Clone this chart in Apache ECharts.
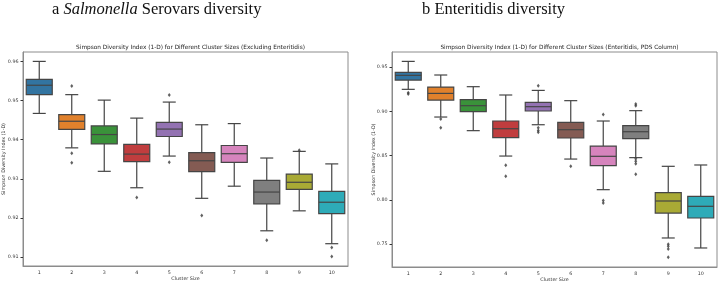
<!DOCTYPE html>
<html>
<head>
<meta charset="utf-8">
<script src="https://cdn.jsdelivr.net/npm/echarts@6/dist/echarts.min.js"></script>
<style>
  html, body { margin: 0; padding: 0; background: #fff; }
  #chart { width: 720px; height: 283px; }
</style>
</head>
<body>
<div id="chart"></div>
<script>
const clusterSizes = ['1', '2', '3', '4', '5', '6', '7', '8', '9', '10'];

// seaborn default palette (desaturated tab10)
const boxColors = ['#3274a1', '#e1812c', '#3a923a', '#c03d3e', '#9372b2',
  '#845b53', '#d684bd', '#7f7f7f', '#a9aa35', '#2eabb8'];

// panel a: [min, Q1, median, Q3, max]
const serovarBoxes = [
  [0.9467, 0.9515, 0.9539, 0.9554, 0.9600],
  [0.9379, 0.9426, 0.9447, 0.9464, 0.9515],
  [0.9319, 0.9389, 0.9413, 0.9435, 0.9501],
  [0.9277, 0.9344, 0.9363, 0.9388, 0.9455],
  [0.9358, 0.9408, 0.9427, 0.9444, 0.9496],
  [0.9250, 0.9318, 0.9346, 0.9367, 0.9438],
  [0.9281, 0.9342, 0.9364, 0.9385, 0.9441],
  [0.9167, 0.9236, 0.9266, 0.9296, 0.9353],
  [0.9218, 0.9273, 0.9291, 0.9312, 0.9370],
  [0.9134, 0.9211, 0.9240, 0.9268, 0.9338]
];
// [cluster index, value]
const serovarOutliers = [
  [1, 0.9537], [1, 0.9365], [1, 0.9341],
  [3, 0.9252],
  [4, 0.9514], [4, 0.9342],
  [5, 0.9206],
  [7, 0.9143],
  [8, 0.9373],
  [9, 0.9124], [9, 0.9101]
];

// panel b: [min, Q1, median, Q3, max]
const enteritidisBoxes = [
  [0.9248, 0.9353, 0.9406, 0.9440, 0.9564],
  [0.8935, 0.9127, 0.9202, 0.9274, 0.9410],
  [0.8781, 0.8995, 0.9063, 0.9131, 0.9278],
  [0.8494, 0.8702, 0.8803, 0.8890, 0.9184],
  [0.8848, 0.9003, 0.9052, 0.9100, 0.9236],
  [0.8460, 0.8698, 0.8792, 0.8875, 0.9120],
  [0.8114, 0.8385, 0.8491, 0.8607, 0.8890],
  [0.8476, 0.8690, 0.8769, 0.8837, 0.9007],
  [0.7568, 0.7850, 0.7986, 0.8080, 0.8378],
  [0.7455, 0.7794, 0.7926, 0.8039, 0.8393]
];
const enteritidisOutliers = [
  [0, 0.9210], [0, 0.9195],
  [1, 0.8912], [1, 0.8814],
  [3, 0.8389], [3, 0.8265],
  [4, 0.9289], [4, 0.8814], [4, 0.8784], [4, 0.8762],
  [5, 0.8378],
  [6, 0.8965], [6, 0.7993], [6, 0.7963],
  [7, 0.9082], [7, 0.9063], [7, 0.8464], [7, 0.8434], [7, 0.8408], [7, 0.8287],
  [8, 0.7496], [8, 0.7474], [8, 0.7444], [8, 0.7349]
];

const serovarTicks = [0.91, 0.92, 0.93, 0.94, 0.95, 0.96];
const enteritidisTicks = [0.75, 0.80, 0.85, 0.90, 0.95];

const lineColor = '#454545';
const axisColor = '#333';
const frameColor = '#8c8c8c';

function renderBox(params, api) {
  const i = api.value(0);
  const lo = api.coord([i, api.value(1)]);
  const q1 = api.coord([i, api.value(2)]);
  const med = api.coord([i, api.value(3)]);
  const q3 = api.coord([i, api.value(4)]);
  const hi = api.coord([i, api.value(5)]);
  const band = api.size([1, 0])[0];
  const bw = band * 0.8;
  const cw = bw / 2;
  const x = lo[0];
  const ls = { stroke: lineColor, lineWidth: 1.2 };
  return {
    type: 'group',
    children: [
      { type: 'line', shape: { x1: x, y1: q3[1], x2: x, y2: hi[1] }, style: ls },
      { type: 'line', shape: { x1: x, y1: q1[1], x2: x, y2: lo[1] }, style: ls },
      { type: 'line', shape: { x1: x - cw / 2, y1: hi[1], x2: x + cw / 2, y2: hi[1] }, style: ls },
      { type: 'line', shape: { x1: x - cw / 2, y1: lo[1], x2: x + cw / 2, y2: lo[1] }, style: ls },
      {
        type: 'rect',
        shape: { x: x - bw / 2, y: q3[1], width: bw, height: q1[1] - q3[1] },
        style: { fill: boxColors[i], stroke: lineColor, lineWidth: 1.2 }
      },
      { type: 'line', shape: { x1: x - bw / 2, y1: med[1], x2: x + bw / 2, y2: med[1] }, style: ls }
    ]
  };
}

function xAxisFor(gridIndex) {
  return {
    type: 'category',
    gridIndex: gridIndex,
    data: clusterSizes,
    name: 'Cluster Size',
    nameLocation: 'middle',
    nameGap: 10.5,
    nameMoveOverlap: false,
    nameTextStyle: { fontSize: 4.8, color: axisColor, fontFamily: 'DejaVu Sans' },
    axisLine: { lineStyle: { color: frameColor, width: 1 } },
    axisTick: { alignWithLabel: true, length: 2.5, lineStyle: { color: axisColor } },
    axisLabel: { fontSize: 4.8, color: axisColor, margin: 4, fontFamily: 'DejaVu Sans' },
    splitLine: { show: false }
  };
}

function yAxisFor(gridIndex, min, max, ticks, gap) {
  return {
    type: 'value',
    gridIndex: gridIndex,
    min: min,
    max: max,
    name: 'Simpson Diversity Index (1-D)',
    nameLocation: 'middle',
    nameGap: gap,
    nameMoveOverlap: false,
    nameTextStyle: { fontSize: 4.8, color: axisColor, fontFamily: 'DejaVu Sans' },
    axisLine: { show: true, lineStyle: { color: frameColor, width: 1 } },
    axisTick: { show: true, length: 2.5, customValues: ticks, lineStyle: { color: axisColor } },
    axisLabel: {
      fontSize: 4.8, color: axisColor, margin: 4.5, fontFamily: 'DejaVu Sans',
      customValues: ticks,
      formatter: v => v.toFixed(2)
    },
    splitLine: { show: false }
  };
}

const chart = echarts.init(document.getElementById('chart'), null, { renderer: 'canvas' });

chart.setOption({
  animation: false,
  backgroundColor: '#fff',
  title: [
    {
      text: '{n|a }{i|Salmonella}{n| Serovars diversity}',
      left: 47, top: -4,
      textStyle: {
        fontWeight: 'normal',
        rich: {
          n: { fontFamily: 'Liberation Serif', fontSize: 16.5, fontWeight: 'normal', color: '#111' },
          i: { fontFamily: 'Liberation Serif', fontSize: 16.5, fontWeight: 'normal', fontStyle: 'italic', color: '#111' }
        }
      }
    },
    {
      text: 'b Enteritidis diversity',
      left: 417, top: -4,
      textStyle: { fontFamily: 'Liberation Serif', fontSize: 16.5, fontWeight: 'normal', color: '#111' }
    },
    {
      text: 'Simpson Diversity Index (1-D) for Different Cluster Sizes (Excluding Enteritidis)',
      left: 185.5, top: 39, textAlign: 'center',
      textStyle: { fontFamily: 'DejaVu Sans', fontSize: 5.8, fontWeight: 'normal', color: '#222' }
    },
    {
      text: 'Simpson Diversity Index (1-D) for Different Cluster Sizes (Enteritidis, PDS Column)',
      left: 554.5, top: 39, textAlign: 'center',
      textStyle: { fontFamily: 'DejaVu Sans', fontSize: 5.8, fontWeight: 'normal', color: '#222' }
    }
  ],
  grid: [
    {
      left: 23, top: 52, width: 325, height: 214, containLabel: false, outerBoundsMode: 'none',
      show: true, borderColor: frameColor, borderWidth: 1, backgroundColor: '#fff'
    },
    {
      left: 392, top: 52, width: 325, height: 215, containLabel: false, outerBoundsMode: 'none',
      show: true, borderColor: frameColor, borderWidth: 1, backgroundColor: '#fff'
    }
  ],
  xAxis: [xAxisFor(0), xAxisFor(1)],
  yAxis: [
    yAxisFor(0, 0.9077, 0.9624, serovarTicks, 17),
    yAxisFor(1, 0.724, 0.967, enteritidisTicks, 16)
  ],
  series: [
    {
      type: 'custom',
      xAxisIndex: 0, yAxisIndex: 0,
      renderItem: renderBox,
      encode: { x: 0, y: [1, 2, 3, 4, 5] },
      data: serovarBoxes.map((b, i) => [i].concat(b))
    },
    {
      type: 'scatter',
      xAxisIndex: 0, yAxisIndex: 0,
      symbol: 'diamond', symbolSize: [3, 4],
      itemStyle: { color: '#3a3a3a' },
      data: serovarOutliers
    },
    {
      type: 'custom',
      xAxisIndex: 1, yAxisIndex: 1,
      renderItem: renderBox,
      encode: { x: 0, y: [1, 2, 3, 4, 5] },
      data: enteritidisBoxes.map((b, i) => [i].concat(b))
    },
    {
      type: 'scatter',
      xAxisIndex: 1, yAxisIndex: 1,
      symbol: 'diamond', symbolSize: [3, 4],
      itemStyle: { color: '#3a3a3a' },
      data: enteritidisOutliers
    }
  ]
});
</script>
</body>
</html>
